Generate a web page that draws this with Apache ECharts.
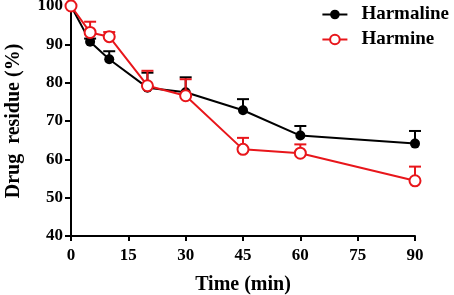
<!DOCTYPE html>
<html>
<head>
<meta charset="utf-8">
<script src="https://cdn.jsdelivr.net/npm/echarts@6/dist/echarts.min.js"></script>
<style>
  html, body { margin: 0; padding: 0; background: #fff; }
  #chart { width: 454px; height: 295px; }
</style>
</head>
<body>
<div id="chart"></div>
<script>
// time points (min)
var times = [0, 5, 10, 20, 30, 45, 60, 90];
// drug residue (%), mean and top of error bar
var harmaline = [100, 90.7, 86.1, 78.7, 77.5, 72.8, 66.2, 64.1];
var harmalineTop = [100, 91.5, 88.2, 82.6, 81.4, 75.7, 68.7, 67.4];
var harmine = [100, 93.1, 92.0, 79.2, 76.6, 62.6, 61.6, 54.4];
var harmineTop = [100, 95.9, 93.2, 83.1, 80.9, 65.6, 63.9, 58.1];
var yTicks = [40, 50, 60, 70, 80, 90, 100];
var xTicks = [0, 15, 30, 45, 60, 75, 90];

var font = '"Liberation Serif", "Times New Roman", serif';
var red = '#e8161b';

function pairs(ys) {
    return times.map(function (t, i) { return [t, ys[i]]; });
}

function errData(ys, tops) {
    return times.map(function (t, i) { return [t, ys[i], tops[i]]; });
}

// upward-only error bar with a cap
function errRender(color) {
    return function (params, api) {
        var p0 = api.coord([api.value(0), api.value(1)]);
        var p1 = api.coord([api.value(0), api.value(2)]);
        var style = { stroke: color, lineWidth: 2 };
        return {
            type: 'group',
            children: [
                { type: 'line', shape: { x1: p0[0], y1: p0[1], x2: p1[0], y2: p1[1] }, style: style },
                { type: 'line', shape: { x1: p1[0] - 6, y1: p1[1], x2: p1[0] + 6, y2: p1[1] }, style: style }
            ]
        };
    };
}

var chart = echarts.init(document.getElementById('chart'));

chart.setOption({
    animation: false,
    grid: { left: 71, right: 39, top: 6, bottom: 59, outerBoundsMode: 'none', containLabel: false },
    legend: {
        right: 0,
        top: 0,
        orient: 'vertical',
        itemWidth: 25,
        itemHeight: 12,
        itemGap: 6,
        textStyle: { fontFamily: font, fontWeight: 'bold', fontSize: 19, color: '#000', padding: [0, 0, 0, 9] },
        data: ['Harmaline', 'Harmine']
    },
    xAxis: {
        type: 'value',
        min: 0,
        max: 90,
        interval: 15,
        name: 'Time (min)',
        nameLocation: 'middle',
        nameGap: 39,
        nameTextStyle: { fontFamily: font, fontWeight: 'bold', fontSize: 20, color: '#000' },
        axisLine: { lineStyle: { color: '#000', width: 2 } },
        axisTick: { length: 5, lineStyle: { color: '#000', width: 2 } },
        axisLabel: {
            fontFamily: font, fontWeight: 'bold', fontSize: 17, color: '#000', margin: 11,
            formatter: function (v) { return xTicks.indexOf(v) >= 0 ? v : ''; }
        },
        splitLine: { show: false }
    },
    yAxis: {
        type: 'value',
        min: 40,
        max: 100,
        interval: 10,
        name: 'Drug  residue (%)',
        nameLocation: 'middle',
        nameGap: 47,
        nameTextStyle: { fontFamily: font, fontWeight: 'bold', fontSize: 20, color: '#000' },
        axisLine: { show: true, lineStyle: { color: '#000', width: 2 } },
        axisTick: { show: true, length: 6, lineStyle: { color: '#000', width: 2 } },
        axisLabel: {
            fontFamily: font, fontWeight: 'bold', fontSize: 17, color: '#000', margin: 8,
            formatter: function (v) { return yTicks.indexOf(v) >= 0 ? v : ''; }
        },
        splitLine: { show: false }
    },
    series: [
        {
            name: 'HarmalineErr',
            type: 'custom',
            renderItem: errRender('#000'),
            data: errData(harmaline, harmalineTop),
            z: 1
        },
        {
            name: 'HarmineErr',
            type: 'custom',
            renderItem: errRender(red),
            data: errData(harmine, harmineTop),
            z: 3
        },
        {
            name: 'Harmaline',
            type: 'line',
            data: pairs(harmaline),
            symbol: 'circle',
            symbolSize: 10,
            itemStyle: { color: '#000' },
            lineStyle: { color: '#000', width: 2 },
            z: 2
        },
        {
            name: 'Harmine',
            type: 'line',
            data: pairs(harmine),
            symbol: 'circle',
            symbolSize: 11,
            itemStyle: { color: '#fff', borderColor: red, borderWidth: 2 },
            lineStyle: { color: red, width: 2 },
            z: 4
        }
    ]
});
</script>
</body>
</html>
